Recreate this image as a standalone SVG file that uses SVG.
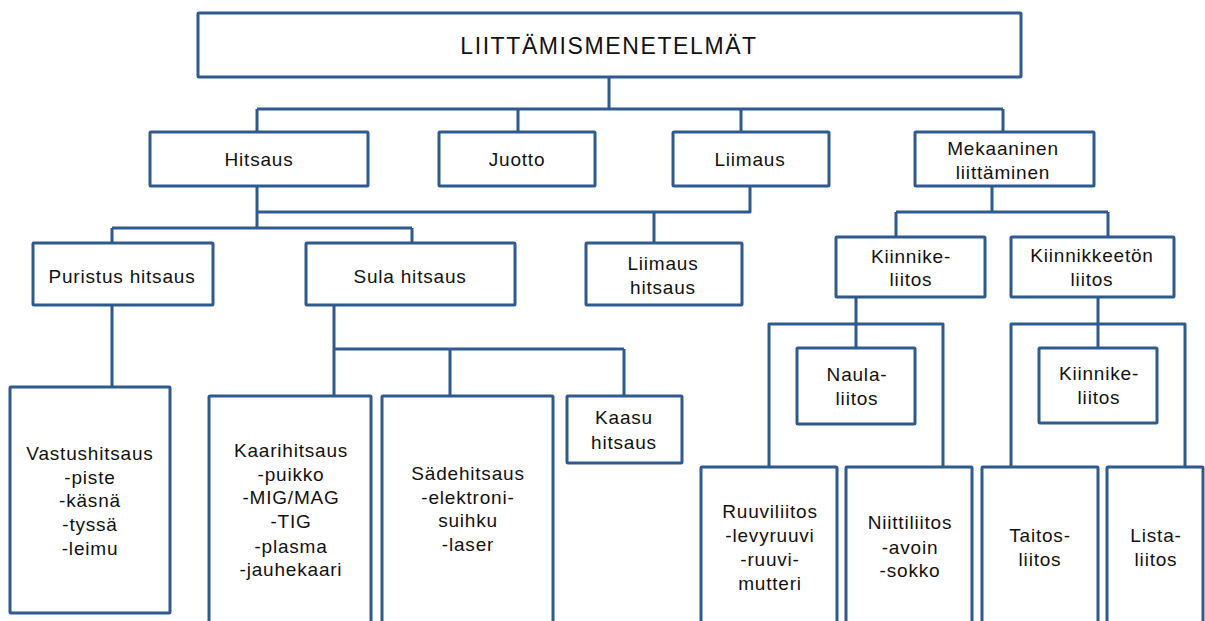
<svg xmlns="http://www.w3.org/2000/svg" width="1205" height="621" viewBox="0 0 1205 621">
<style>
.box{fill:#fff;stroke:#2f5a8f;stroke-width:3}
.conn{fill:none;stroke:#2f5a8f;stroke-width:3;stroke-linejoin:round}
.t{font-family:"Liberation Sans",Arial,sans-serif;font-size:19px;letter-spacing:0.8px;text-anchor:middle;dominant-baseline:central;fill:#111}
.title{font-family:"Liberation Sans",Arial,sans-serif;font-size:23px;letter-spacing:1.6px;text-anchor:middle;dominant-baseline:central;fill:#111}
</style>
<rect width="1205" height="621" fill="#fff"/>
<g id="connectors">
<path class="conn" d="M609,77V109M257,109H1003M257,109V132M518,109V132M741,109V132M1003,109V132"/>
<path class="conn" d="M257,186V228M112,228H412M112,228V243M412,228V243"/>
<path class="conn" d="M750,186V212H257M654,212V243"/>
<path class="conn" d="M992,186V212M896,212H1108M896,212V237M1108,212V237"/>
<path class="conn" d="M112,305V393"/>
<path class="conn" d="M334,305V349H624M334,349V396M450,349V396M624,349V396"/>
<path class="conn" d="M856,297V348M769,467V324H943V467"/>
<path class="conn" d="M1098,297V348M1011,467V324H1185V467"/>
</g>
<g id="n-root"><rect class="box" x="198" y="13" width="823" height="64" rx="1"/><text class="title" x="609" y="46">LIITTÄMISMENETELMÄT</text></g>
<g id="n-hitsaus"><rect class="box" x="150" y="132" width="218" height="54" rx="1"/><text class="t" x="259" y="159">Hitsaus</text></g>
<g id="n-juotto"><rect class="box" x="439" y="132" width="156" height="54" rx="1"/><text class="t" x="517" y="159">Juotto</text></g>
<g id="n-liimaus"><rect class="box" x="673" y="132" width="156" height="54" rx="1"/><text class="t" x="750" y="159">Liimaus</text></g>
<g id="n-mekaaninen"><rect class="box" x="915" y="132" width="179" height="54" rx="1"/><text class="t"><tspan x="1003" y="148">Mekaaninen</tspan><tspan x="1003" y="172">liittäminen</tspan></text></g>
<g id="n-puristus"><rect class="box" x="33" y="243" width="180" height="62" rx="1"/><text class="t" x="122" y="276">Puristus hitsaus</text></g>
<g id="n-sula"><rect class="box" x="306" y="243" width="209" height="62" rx="1"/><text class="t" x="410" y="276">Sula hitsaus</text></g>
<g id="n-liimaushitsaus"><rect class="box" x="586" y="243" width="156" height="62" rx="1"/><text class="t"><tspan x="663" y="263">Liimaus</tspan><tspan x="663" y="287">hitsaus</tspan></text></g>
<g id="n-kiinnike"><rect class="box" x="836" y="237" width="149" height="60" rx="1"/><text class="t"><tspan x="911" y="256">Kiinnike-</tspan><tspan x="911" y="279">liitos</tspan></text></g>
<g id="n-kiinnikkeeton"><rect class="box" x="1011" y="237" width="163" height="60" rx="1"/><text class="t"><tspan x="1092" y="255">Kiinnikkeetön</tspan><tspan x="1092" y="279">liitos</tspan></text></g>
<g id="n-vastus"><rect class="box" x="10" y="387" width="160" height="226" rx="1"/><text class="t"><tspan x="90" y="453">Vastushitsaus</tspan><tspan x="90" y="477">-piste</tspan><tspan x="90" y="500">-käsnä</tspan><tspan x="90" y="524">-tyssä</tspan><tspan x="90" y="548">-leimu</tspan></text></g>
<g id="n-kaari"><rect class="box" x="209" y="396" width="162" height="240" rx="1"/><text class="t"><tspan x="291" y="450">Kaarihitsaus</tspan><tspan x="291" y="474">-puikko</tspan><tspan x="291" y="497">-MIG/MAG</tspan><tspan x="291" y="521">-TIG</tspan><tspan x="291" y="546">-plasma</tspan><tspan x="291" y="569">-jauhekaari</tspan></text></g>
<g id="n-sade"><rect class="box" x="382" y="396" width="171" height="240" rx="1"/><text class="t"><tspan x="468" y="473">Sädehitsaus</tspan><tspan x="468" y="497">-elektroni-</tspan><tspan x="468" y="520">suihku</tspan><tspan x="468" y="544">-laser</tspan></text></g>
<g id="n-kaasu"><rect class="box" x="567" y="396" width="115" height="67" rx="1"/><text class="t"><tspan x="624" y="417">Kaasu</tspan><tspan x="624" y="442">hitsaus</tspan></text></g>
<g id="n-naula"><rect class="box" x="797" y="348" width="118" height="76" rx="1"/><text class="t"><tspan x="857" y="374">Naula-</tspan><tspan x="857" y="398">liitos</tspan></text></g>
<g id="n-kiinnike2"><rect class="box" x="1039" y="348" width="118" height="75" rx="1"/><text class="t"><tspan x="1099" y="373">Kiinnike-</tspan><tspan x="1099" y="397">liitos</tspan></text></g>
<g id="n-ruuvi"><rect class="box" x="701" y="467" width="136" height="170" rx="1"/><text class="t"><tspan x="770" y="511">Ruuviliitos</tspan><tspan x="770" y="535">-levyruuvi</tspan><tspan x="770" y="559">-ruuvi-</tspan><tspan x="770" y="583">mutteri</tspan></text></g>
<g id="n-niitti"><rect class="box" x="846" y="467" width="126" height="170" rx="1"/><text class="t"><tspan x="910" y="522">Niittiliitos</tspan><tspan x="910" y="547">-avoin</tspan><tspan x="910" y="570">-sokko</tspan></text></g>
<g id="n-taitos"><rect class="box" x="982" y="467" width="116" height="170" rx="1"/><text class="t"><tspan x="1040" y="535">Taitos-</tspan><tspan x="1040" y="559">liitos</tspan></text></g>
<g id="n-lista"><rect class="box" x="1107" y="467" width="96" height="170" rx="1"/><text class="t"><tspan x="1156" y="535">Lista-</tspan><tspan x="1156" y="559">liitos</tspan></text></g>
</svg>
